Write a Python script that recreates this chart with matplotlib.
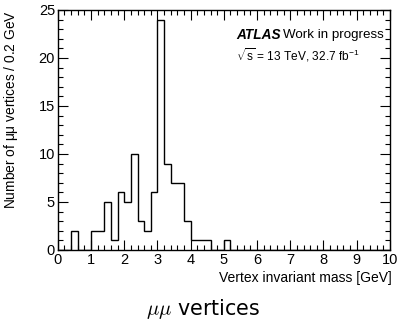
import numpy as np
import matplotlib
matplotlib.use("Agg")
import matplotlib.pyplot as plt
from matplotlib.ticker import MultipleLocator

# bin edges every 0.2 GeV from 0 to 10
bin_width = 0.2
n_bins = 50
counts = [0, 0, 2, 0, 0,
          2, 2, 5, 1, 6,
          5, 10, 3, 2, 6,
          24, 9, 7, 7, 3,
          1, 1, 1, 0, 0,
          1, 0, 0, 0, 0,
          0, 0, 0, 0, 0,
          0, 0, 0, 0, 0,
          0, 0, 0, 0, 0,
          0, 0, 0, 0, 0]
edges = np.arange(n_bins + 1) * bin_width

plt.rcParams["font.family"] = ["Liberation Sans", "DejaVu Sans"]
plt.rcParams["mathtext.fontset"] = "cm"

fig = plt.figure(figsize=(3.99, 3.2), dpi=100)
ax = fig.add_axes([0.145, 0.219, 0.832, 0.75])

ax.stairs(counts, edges, color="black", linewidth=1.0)

ax.set_xlim(0, 10)
ax.set_ylim(0, 25)
ax.xaxis.set_major_locator(MultipleLocator(1))
ax.xaxis.set_minor_locator(MultipleLocator(0.2))
ax.yaxis.set_major_locator(MultipleLocator(5))
ax.yaxis.set_minor_locator(MultipleLocator(1))
ax.tick_params(which="both", direction="in", top=True, right=True, labelsize=10.5, width=0.8)
ax.tick_params(which="major", length=7)
ax.tick_params(which="minor", length=3.5)
ax.tick_params(axis="x", pad=2)
ax.tick_params(axis="y", pad=2)
for s in ax.spines.values():
    s.set_linewidth(1.0)

ax.set_xlabel("Vertex invariant mass [GeV]", fontsize=10, loc="right")
ax.set_ylabel(r"Number of $\mathregular{\mu\mu}$ vertices / 0.2 GeV", fontsize=9.9, loc="top")
ax.xaxis.set_label_coords(1.006, -0.088)
ax.yaxis.set_label_coords(-0.114, 1.0)

ax.text(0.536, 0.896, "ATLAS", transform=ax.transAxes, fontsize=9.8, fontweight="bold",
        fontstyle="italic", ha="left", va="center")
ax.text(0.678, 0.896, "Work in progress", transform=ax.transAxes, fontsize=9.6,
        ha="left", va="center")
ax.text(0.536, 0.8125, r"$\mathregular{\sqrt{s}}$ = 13 TeV, 32.7 fb$\mathregular{^{-1}}$",
        transform=ax.transAxes, fontsize=8.6, ha="left", va="center")

fig.text(0.509, 0.016, r"$\mu\mu$ vertices", fontsize=14.9, ha="center", va="baseline",
         family="DejaVu Sans")

fig.savefig("out.png", dpi=100)
